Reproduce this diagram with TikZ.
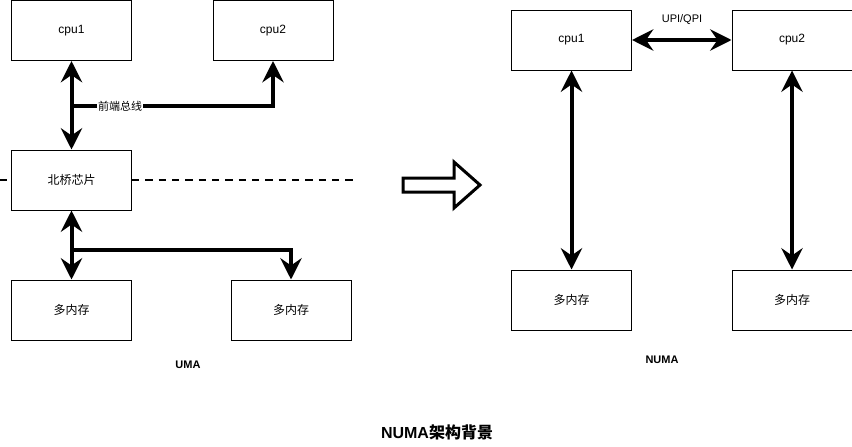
\documentclass[tikz,border=0pt]{standalone}
\usepackage{fontspec}
\setmainfont{Liberation Sans}
\newfontfamily\cjk{Noto Sans CJK SC}
\usetikzlibrary{arrows.meta}
\tikzset{
  box/.style={draw, line width=0.75pt, minimum width=90pt, minimum height=45pt, font=\fontsize{9}{10}\selectfont},
  bus/.style={line width=3pt, >={Stealth[length=16pt, width=16pt, inset=5.5pt]}},
  sep/.style={line width=1.1pt, dash pattern=on 5.5pt off 4.5pt},
  lbl/.style={font=\fontsize{8.25}{10}\selectfont}
}
\begin{document}
\begin{tikzpicture}[x=0.75pt, y=-0.75pt]
  \useasboundingbox (0,0) rectangle (852,446);
  \node[box] (c1) at (71.5,30.5) {cpu1};
  \node[box] (c2) at (273,30.5) {cpu2};
  \node[box] (nb) at (71.5,180) {\cjk 北桥芯片};
  \node[box] (m1) at (71.5,310) {\cjk 多内存};
  \node[box] (m2) at (291,310) {\cjk 多内存};
  \coordinate (fsb) at (71.5,106);
  \coordinate (mb) at (71.5,250);
  \coordinate (sl) at (0,180);
  \coordinate (sr) at (355,180);
  \draw[sep] (sl) -- (nb.west) (nb.east) -- (sr);
  \draw[bus, <->] (c1.south) -- (nb.north);
  \draw[bus, ->] (fsb) -| (c2.south);
  \node[lbl, fill=white, inner sep=1pt] (fsbl) at (120,106) {\cjk 前端总线};
  \draw[bus, <->] (nb.south) -- (m1.north);
  \draw[bus, ->] (mb) -| (m2.north);
  \node[lbl, font=\bfseries\fontsize{8.25}{10}\selectfont] (uma) at (188,365) {UMA};

  \draw[line width=2.25pt] (403,178) -- (454,178) -- (454,162) -- (480,185)
    -- (454,208) -- (454,192) -- (403,192) -- cycle;

  \node[box] (rc1) at (571.5,40) {cpu1};
  \node[box] (rc2) at (792,40) {cpu2};
  \node[box] (rm1) at (571.5,300) {\cjk 多内存};
  \node[box] (rm2) at (792,300) {\cjk 多内存};
  \draw[bus, <->] (rc1.east) -- (rc2.west);
  \node[lbl] (upi) at (682,20) {UPI/QPI};
  \draw[bus, <->] (rc1.south) -- (rm1.north);
  \draw[bus, <->] (rc2.south) -- (rm2.north);
  \node[lbl, font=\bfseries\fontsize{8.25}{10}\selectfont] (numa) at (662,360) {NUMA};

  \node[font=\bfseries\fontsize{12}{14}\selectfont] (title) at (437,432) {NUMA{\cjk 架构背景}};
\end{tikzpicture}
\end{document}
